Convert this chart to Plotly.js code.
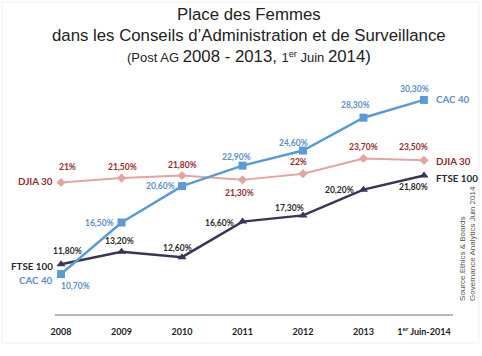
<!DOCTYPE html>
<html>
<head>
<meta charset="utf-8">
<script src="https://cdn.plot.ly/plotly-3.0.1.min.js"></script>
<style>html,body{margin:0;padding:0;background:#fff;}#chart{width:482px;height:356px;}</style>
</head>
<body>
<div id="chart"></div>
<script>
// ---- data ----
var years = ['2008', '2009', '2010', '2011', '2012', '2013', '1<sup>er</sup> Juin-2014'];
var cac40 = [10.7, 16.5, 20.6, 22.9, 24.6, 28.3, 30.3];
var djia30 = [21, 21.5, 21.8, 21.3, 22, 23.7, 23.5];
var ftse100 = [11.8, 13.2, 12.6, 16.6, 17.3, 20.2, 21.8];
var seriesNames = ['CAC 40', 'DJIA 30', 'FTSE 100'];
var titleLines = ['Place des Femmes', 'dans les Conseils d’Administration et de Surveillance',
  '<span style="font-size:13px">(Post AG </span>2008 - 2013, <span style="font-size:13px">1<sup>er</sup> Juin </span>2014)'];
var sourceText = 'Source Ethics &amp; Boards<br>Governance Analytics Juin 2014';

// ---- label placement (style) ----
var cacShift = [[14, -12], [-22, 0], [-22, 0], [-6, 9], [-9, 8], [-8, 13], [-9, 11]];
var djiaShift = [[6, 16], [1, 11], [0, 10], [-3, -13], [-4, 12], [0, 12], [-10, 13]];
var ftseShift = [[6, 13], [-2, 11], [-5, 9], [-23, -1], [-13, 7], [-24, 0], [-10, -12]];

var cBlue = '#5b9bd5', cBlueTxt = '#5a8fc8';
var cPink = '#e6a39f', cRed = '#962b2b';
var cDark = '#3b3456', cDarkTxt = '#2a2a2a';

function fmt(v) {
  if (Math.round(v) === v) return v + '%';
  return v.toFixed(2).replace('.', ',') + '%';
}
var idx = years.map(function (_, i) { return i; });

var traces = [
  {x: idx, y: djia30, name: seriesNames[1], mode: 'lines+markers',
   line: {color: cPink, width: 2}, marker: {symbol: 'diamond', size: 7, color: cPink}, cliponaxis: false},
  {x: idx, y: ftse100, name: seriesNames[2], mode: 'lines+markers',
   line: {color: cDark, width: 2.5}, marker: {symbol: 'triangle-up', size: 8, color: cDark}, cliponaxis: false},
  {x: idx, y: cac40, name: seriesNames[0], mode: 'lines+markers',
   line: {color: cBlue, width: 2.5}, marker: {symbol: 'square', size: 8, color: cBlue}, cliponaxis: false}
];

var annotations = [];
function addLabels(vals, shifts, color) {
  vals.forEach(function (v, i) {
    annotations.push({x: i, y: v, xref: 'x', yref: 'y', text: fmt(v), showarrow: false,
      xshift: shifts[i][0], yshift: shifts[i][1],
      font: {family: 'Lato', size: 8.5, color: color, weight: 'bold'}});
  });
}
addLabels(cac40, cacShift, cBlueTxt);
addLabels(djia30, djiaShift, cRed);
addLabels(ftse100, ftseShift, cDarkTxt);

function addName(name, xi, v, side, dy, color) {
  annotations.push({x: xi, y: v, xref: 'x', yref: 'y', text: '<b>' + name + '</b>', showarrow: false,
    xanchor: side === 'left' ? 'right' : 'left', xshift: side === 'left' ? -6 : 10, yshift: dy,
    font: {family: 'Lato', size: 9.8, color: color}});
}
var last = years.length - 1;
addName(seriesNames[1], 0, djia30[0], 'left', 2, cRed);
addName(seriesNames[2], 0, ftse100[0], 'left', -2, cDarkTxt);
addName(seriesNames[0], 0, cac40[0], 'left', -6, cBlueTxt);
addName(seriesNames[0], last, cac40[last], 'right', 1, cBlueTxt);
addName(seriesNames[1], last, djia30[last], 'right', -1, cRed);
addName(seriesNames[2], last, ftse100[last], 'right', -3, cDarkTxt);

var titleY = [1.306, 1.218, 1.125];
titleLines.forEach(function (t, i) {
  annotations.push({xref: 'paper', yref: 'paper', x: 0.487, y: titleY[i], xanchor: 'center', yanchor: 'middle',
    text: t, showarrow: false, font: {family: 'Liberation Sans', size: 16.8, color: '#222'}});
});

annotations.push({xref: 'paper', yref: 'paper', x: 1.035, y: 0.31, xanchor: 'center', yanchor: 'middle',
  text: sourceText, textangle: -90, align: 'left',
  showarrow: false, font: {family: 'Liberation Sans', size: 8, color: '#555'}});

var layout = {
  width: 482, height: 356,
  margin: {l: 55, r: 29, t: 85, b: 42},
  paper_bgcolor: '#fff', plot_bgcolor: '#fff',
  showlegend: false,
  xaxis: {range: [-0.1, 6.48], showgrid: false, zeroline: false,
    tickmode: 'array', tickvals: idx, ticktext: years,
    showline: true, linecolor: '#b5b5b5', linewidth: 2, ticks: '', ticklabelstandoff: 8,
    tickfont: {family: 'Lato', size: 9, color: '#222', weight: 'bold'}},
  yaxis: {range: [6.2, 31.98], visible: false, showgrid: false, zeroline: false},
  annotations: annotations,
  shapes: [{type: 'rect', xref: 'paper', yref: 'paper', x0: -0.133, x1: 1.065, y0: -0.127, y1: 1.362,
    line: {color: '#efefef', width: 1}, layer: 'below'}]
};

Plotly.newPlot('chart', traces, layout, {displayModeBar: false, staticPlot: true});
</script>
</body>
</html>
